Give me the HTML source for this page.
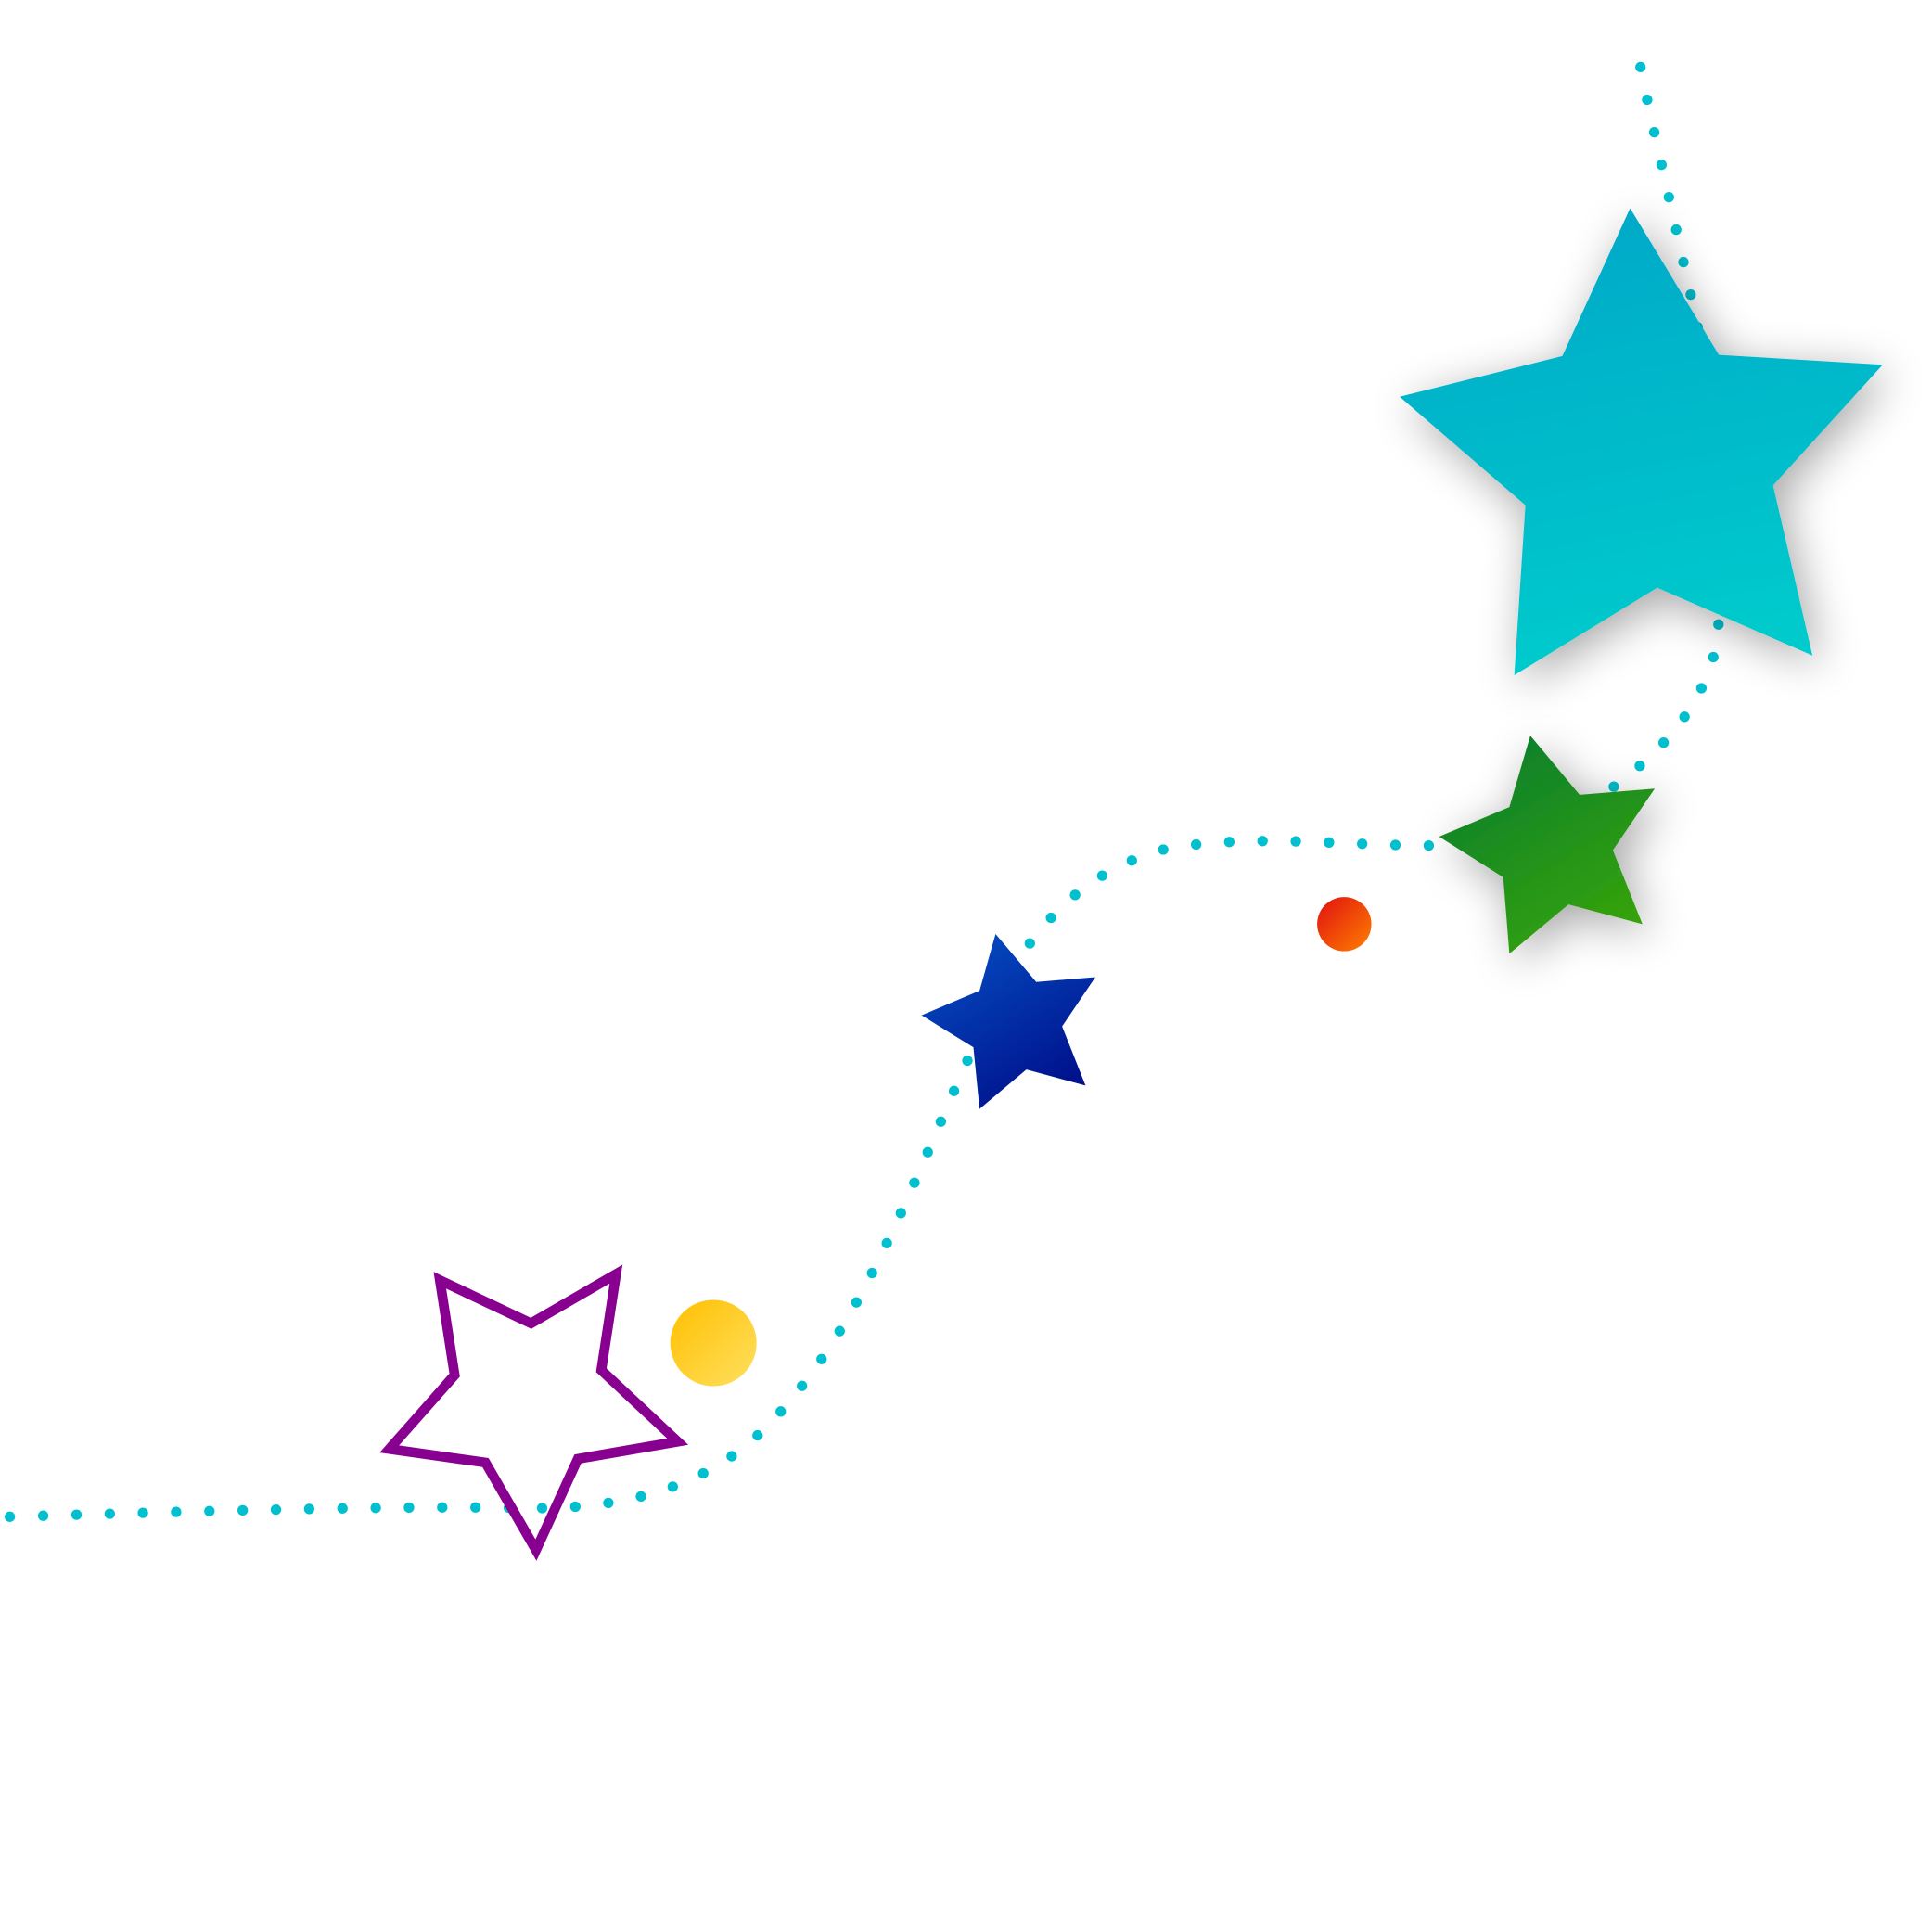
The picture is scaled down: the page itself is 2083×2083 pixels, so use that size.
<!DOCTYPE html>
<html><head><meta charset="utf-8"><style>
html,body{margin:0;padding:0;background:#fff;}
svg{display:block;}
</style></head><body>
<svg width="2083" height="2083" viewBox="0 0 1568 1568" xmlns="http://www.w3.org/2000/svg">
<defs>
<linearGradient id="gBig" x1="0" y1="0" x2="0.2" y2="1"><stop offset="0" stop-color="#00a6c8"/><stop offset="1" stop-color="#00cacc"/></linearGradient>
<linearGradient id="gGreen" x1="0" y1="0" x2="0.6" y2="1"><stop offset="0" stop-color="#067a32"/><stop offset="1" stop-color="#34a20c"/></linearGradient>
<linearGradient id="gBlue" x1="0" y1="0" x2="0.6" y2="1"><stop offset="0" stop-color="#0552c8"/><stop offset="1" stop-color="#00128c"/></linearGradient>
<linearGradient id="gYel" x1="0" y1="0" x2="1" y2="1"><stop offset="0" stop-color="#ffbf00"/><stop offset="1" stop-color="#ffe060"/></linearGradient>
<linearGradient id="gRed" x1="0" y1="0" x2="1" y2="1"><stop offset="0" stop-color="#e01010"/><stop offset="1" stop-color="#ff8000"/></linearGradient>
<filter id="sh" x="-30%" y="-30%" width="160%" height="160%"><feGaussianBlur in="SourceAlpha" stdDeviation="18"/><feOffset dx="6" dy="8"/><feComponentTransfer><feFuncA type="linear" slope="0.35"/></feComponentTransfer><feMerge><feMergeNode/><feMergeNode in="SourceGraphic"/></feMerge></filter>
</defs>
<path d="M8,1231 C200,1225 350,1222 430,1224 C520,1225 580,1200 620,1160 C700,1080 740,960 790,850 C820,780 860,710 950,688 C1030,676 1100,688 1180,686 L1240,680 C1300,650 1380,600 1394,518 L1400,420 C1390,330 1380,270 1370,230 C1355,160 1340,100 1330,47" fill="none" stroke="#00c0d0" stroke-width="8.5" stroke-linecap="round" stroke-dasharray="0 27"/>
<polygon points="1323,169 1395,288 1528,296 1439,394 1471,532 1345,477 1229,548 1238,410 1136,322 1268,289" fill="url(#gBig)" filter="url(#sh)"/>
<polygon points="1242,597 1282,645 1343,640 1309,690 1333,750 1273,734 1225,774 1220,712 1168,679 1225,655" fill="url(#gGreen)" filter="url(#sh)"/>
<polygon points="808,758 841,797 889,793 862,833 881,881 833,868 795,900 790,850 748,824 795,804" fill="url(#gBlue)"/>
<polygon points="357,1039 431,1074 500,1034 488,1112 550,1170 469,1184 435,1258 394,1187 316,1176 369,1116" fill="none" stroke="#880090" stroke-width="8"/>
<circle cx="579" cy="1090" r="35" fill="url(#gYel)"/>
<circle cx="1091" cy="750" r="22" fill="url(#gRed)"/>
</svg>
</body></html>
